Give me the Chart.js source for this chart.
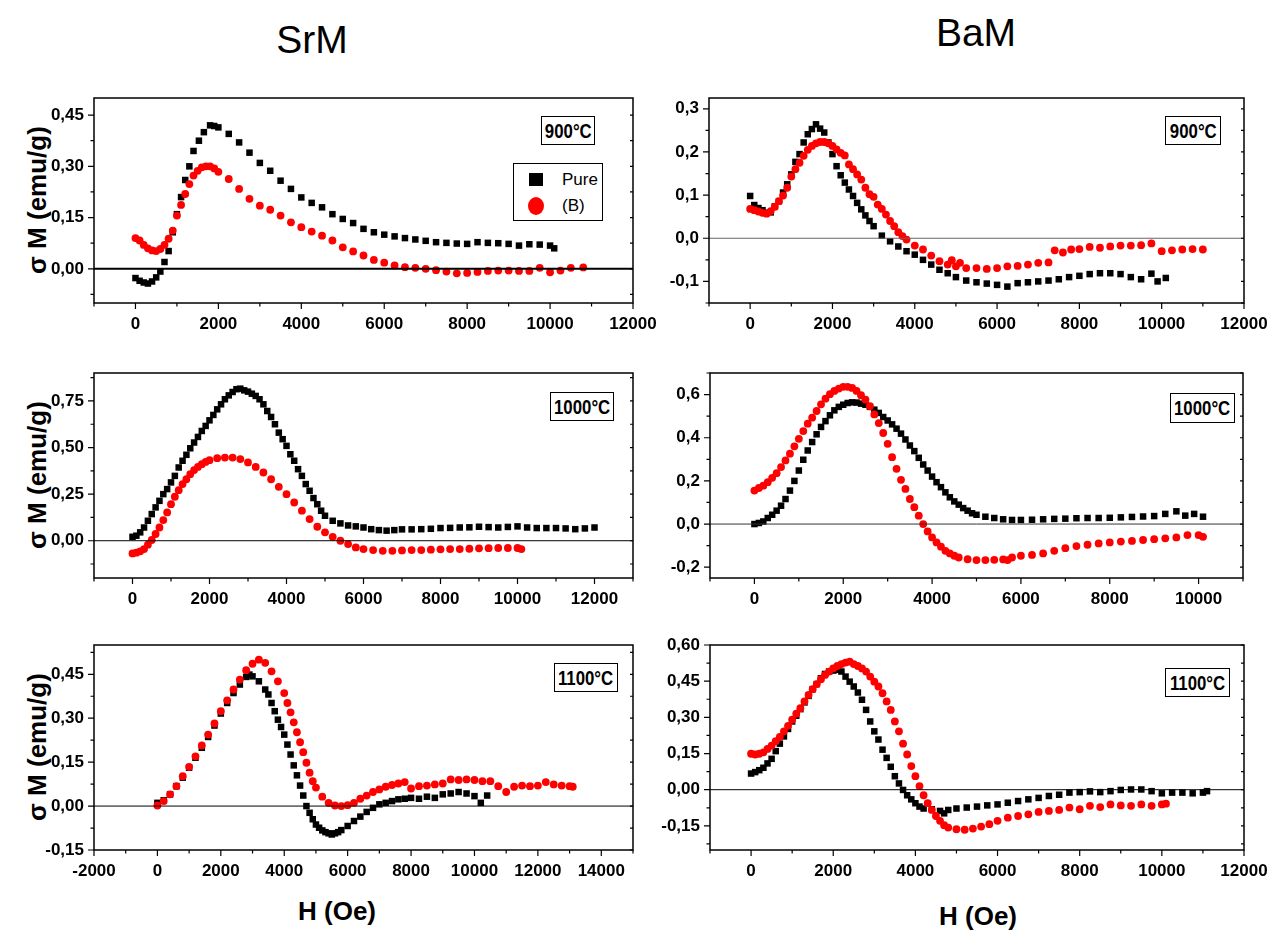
<!DOCTYPE html>
<html>
<head>
<meta charset="utf-8">
<script src="https://cdn.jsdelivr.net/npm/chart.js@4.4.1/dist/chart.umd.min.js"></script>
<style>
  body { margin: 0; background: #fff; }
  #page { position: relative; width: 1277px; height: 932px; overflow: hidden; background: #fff;
          font-family: 'Liberation Sans', Arial, sans-serif; color: #000; }
  canvas { position: absolute; }
  .head { position: absolute; font-size: 39px; transform: translate(-50%, -50%); white-space: nowrap; }
  .htitle { position: absolute; font-size: 26px; font-weight: bold; transform: translate(-50%, -50%); white-space: nowrap; }
  .ytitle { position: absolute; font-size: 26px; font-weight: bold; white-space: nowrap;
            transform: translate(-50%, -50%) rotate(-90deg); }
  .temp { position: absolute; border: 1px solid #000; background: #fff; z-index: 2;
          font-weight: bold; font-size: 21px; display: flex; align-items: center; justify-content: center; }
  .temp span { display: inline-block; transform: scaleX(0.8); white-space: nowrap; }
  .legend { position: absolute; border: 1px solid #000; background: #fff; z-index: 2; font-size: 17px; }
  .legend .sym { position: absolute; }
  .legend .lab { position: absolute; transform: translateY(-50%); }
</style>
</head>
<body>
<div id="page">
  <div class="head" style="left:312px; top:40px">SrM</div>
  <div class="head" style="left:976px; top:33px">BaM</div>

  <div class="ytitle" style="left:37px; top:200px">σ M (emu/g)</div>
  <div class="ytitle" style="left:37px; top:475px">σ M (emu/g)</div>
  <div class="ytitle" style="left:37px; top:747px">σ M (emu/g)</div>

  <div class="htitle" style="left:337px; top:911px">H (Oe)</div>
  <div class="htitle" style="left:978px; top:916px">H (Oe)</div>

  <canvas id="c1"></canvas>
  <canvas id="c2"></canvas>
  <canvas id="c3"></canvas>
  <canvas id="c4"></canvas>
  <canvas id="c5"></canvas>
  <canvas id="c6"></canvas>

  <div class="temp" style="left:541px; top:116px; width:52px; height:27px"><span>900°C</span></div>
  <div class="temp" style="left:1165px; top:116px; width:54px; height:27px"><span>900°C</span></div>
  <div class="temp" style="left:550px; top:392px; width:62px; height:27px"><span>1000°C</span></div>
  <div class="temp" style="left:1170px; top:393px; width:63px; height:28px"><span>1000°C</span></div>
  <div class="temp" style="left:554px; top:663px; width:62px; height:27px"><span>1100°C</span></div>
  <div class="temp" style="left:1165px; top:668px; width:63px; height:27px"><span>1100°C</span></div>

  <div class="legend" style="left:513px; top:163px; width:88px; height:56px">
    <div class="sym" style="left:15px; top:9px; width:14px; height:13px; background:#000"></div>
    <div class="lab" style="left:48px; top:16px">Pure</div>
    <div class="sym" style="left:14px; top:33px; width:16px; height:18px; background:#ff0000; border-radius:50%"></div>
    <div class="lab" style="left:48px; top:42px">(B)</div>
  </div>
</div>

<script>
// ---- data: [H (Oe), sigma M (emu/g)] ----
const srm900Pure = [[0,-0.027],[100,-0.035],[200,-0.04],[300,-0.043],[400,-0.037],[500,-0.025],[600,-0.008],[700,0.02],[800,0.052],[900,0.107],[1000,0.16],[1100,0.21],[1200,0.26],[1300,0.30],[1400,0.345],[1530,0.375],[1650,0.40],[1800,0.42],[1900,0.418],[2000,0.414],[2250,0.395],[2500,0.37],[2750,0.34],[3000,0.31],[3250,0.287],[3500,0.258],[3750,0.234],[4000,0.209],[4250,0.193],[4500,0.18],[4750,0.16],[5000,0.146],[5250,0.134],[5500,0.117],[5750,0.107],[6000,0.1],[6250,0.095],[6500,0.09],[6750,0.086],[7000,0.082],[7250,0.078],[7500,0.076],[7750,0.074],[8000,0.073],[8250,0.078],[8500,0.076],[8750,0.075],[9000,0.073],[9250,0.068],[9500,0.072],[9750,0.071],[10000,0.068],[10100,0.06]];
const srm900B = [[0,0.09],[100,0.083],[200,0.07],[300,0.06],[400,0.054],[500,0.052],[600,0.058],[700,0.07],[800,0.088],[900,0.112],[1000,0.156],[1100,0.187],[1200,0.219],[1300,0.248],[1400,0.273],[1500,0.287],[1600,0.297],[1700,0.30],[1800,0.30],[1900,0.294],[2000,0.284],[2250,0.263],[2500,0.234],[2750,0.205],[3000,0.185],[3250,0.173],[3500,0.156],[3750,0.136],[4000,0.122],[4250,0.109],[4500,0.097],[4750,0.083],[5000,0.063],[5250,0.051],[5500,0.039],[5750,0.026],[6000,0.018],[6250,0.01],[6500,0.005],[6750,0.003],[7000,0.0],[7250,-0.004],[7500,-0.008],[7750,-0.013],[8000,-0.012],[8250,-0.009],[8500,-0.006],[8750,-0.005],[9000,-0.005],[9250,-0.006],[9500,-0.006],[9750,0.003],[10000,-0.01],[10250,-0.005],[10500,0.003],[10800,0.004]];

const bam900Pure = [[0,0.098],[100,0.077],[200,0.07],[300,0.065],[400,0.059],[500,0.06],[600,0.074],[700,0.086],[800,0.106],[900,0.125],[1000,0.148],[1100,0.177],[1200,0.195],[1300,0.222],[1400,0.241],[1500,0.253],[1600,0.264],[1700,0.254],[1800,0.245],[1900,0.222],[2000,0.195],[2100,0.167],[2200,0.146],[2300,0.129],[2400,0.113],[2500,0.098],[2600,0.082],[2700,0.067],[2800,0.053],[2900,0.04],[3000,0.028],[3200,0.006],[3400,-0.007],[3600,-0.019],[3800,-0.03],[4000,-0.038],[4200,-0.05],[4400,-0.061],[4600,-0.073],[4800,-0.081],[5000,-0.09],[5250,-0.098],[5500,-0.102],[5750,-0.105],[6000,-0.108],[6250,-0.112],[6500,-0.104],[6750,-0.102],[7000,-0.1],[7250,-0.098],[7500,-0.095],[7750,-0.09],[8000,-0.087],[8250,-0.083],[8500,-0.081],[8750,-0.081],[9000,-0.083],[9250,-0.09],[9500,-0.095],[9750,-0.082],[9900,-0.1],[10100,-0.092]];
const bam900B = [[0,0.068],[100,0.065],[200,0.062],[300,0.059],[400,0.057],[500,0.063],[600,0.073],[700,0.086],[800,0.099],[900,0.117],[1000,0.143],[1100,0.16],[1200,0.175],[1300,0.191],[1400,0.205],[1500,0.214],[1600,0.22],[1700,0.223],[1800,0.223],[1900,0.22],[2000,0.214],[2100,0.206],[2200,0.198],[2300,0.192],[2400,0.171],[2500,0.16],[2600,0.148],[2700,0.136],[2800,0.117],[2900,0.102],[3000,0.096],[3100,0.078],[3200,0.068],[3300,0.055],[3400,0.04],[3500,0.028],[3600,0.014],[3700,0.005],[3800,-0.003],[4000,-0.017],[4200,-0.026],[4400,-0.04],[4600,-0.053],[4800,-0.061],[4900,-0.051],[5000,-0.065],[5100,-0.057],[5250,-0.069],[5500,-0.069],[5750,-0.071],[6000,-0.069],[6250,-0.065],[6500,-0.064],[6750,-0.061],[7000,-0.057],[7250,-0.056],[7400,-0.028],[7600,-0.033],[7800,-0.026],[8000,-0.025],[8250,-0.02],[8500,-0.022],[8750,-0.019],[9000,-0.017],[9250,-0.017],[9500,-0.016],[9750,-0.012],[10000,-0.03],[10250,-0.028],[10500,-0.026],[10750,-0.025],[11000,-0.026]];

const srm1000Pure = [[0,0.021],[100,0.027],[200,0.045],[300,0.071],[400,0.107],[500,0.143],[600,0.179],[700,0.214],[800,0.25],[900,0.277],[1000,0.313],[1100,0.348],[1200,0.393],[1300,0.429],[1400,0.461],[1500,0.496],[1600,0.527],[1700,0.557],[1800,0.589],[1900,0.616],[2000,0.646],[2100,0.675],[2200,0.705],[2300,0.732],[2400,0.759],[2500,0.78],[2600,0.798],[2700,0.813],[2800,0.816],[2900,0.807],[3000,0.8],[3100,0.789],[3200,0.777],[3300,0.759],[3400,0.732],[3500,0.696],[3600,0.664],[3700,0.625],[3800,0.58],[3900,0.545],[4000,0.509],[4100,0.464],[4200,0.429],[4300,0.384],[4400,0.348],[4500,0.304],[4600,0.268],[4700,0.229],[4800,0.196],[4900,0.161],[5000,0.134],[5200,0.107],[5400,0.093],[5600,0.082],[5800,0.077],[6000,0.071],[6200,0.062],[6400,0.057],[6600,0.054],[6800,0.057],[7000,0.061],[7250,0.061],[7500,0.062],[7750,0.064],[8000,0.068],[8250,0.069],[8500,0.071],[8750,0.072],[9000,0.075],[9250,0.073],[9500,0.071],[9750,0.074],[10000,0.077],[10250,0.071],[10500,0.068],[10750,0.068],[11000,0.068],[11250,0.066],[11500,0.062],[11750,0.066],[12000,0.071]];
const srm1000B = [[0,-0.068],[100,-0.064],[200,-0.057],[300,-0.045],[400,-0.021],[500,0.004],[600,0.036],[700,0.071],[800,0.111],[900,0.152],[1000,0.196],[1100,0.236],[1200,0.271],[1300,0.304],[1400,0.33],[1500,0.357],[1600,0.379],[1700,0.396],[1800,0.411],[1900,0.423],[2000,0.432],[2200,0.443],[2400,0.446],[2600,0.446],[2800,0.438],[3000,0.42],[3200,0.396],[3400,0.366],[3600,0.33],[3800,0.289],[4000,0.25],[4200,0.205],[4400,0.161],[4600,0.116],[4800,0.075],[5000,0.045],[5200,0.021],[5400,0.0],[5600,-0.018],[5800,-0.036],[6000,-0.045],[6250,-0.05],[6500,-0.054],[6750,-0.054],[7000,-0.052],[7250,-0.05],[7500,-0.05],[7750,-0.048],[8000,-0.046],[8250,-0.045],[8500,-0.045],[8750,-0.043],[9000,-0.041],[9250,-0.04],[9500,-0.039],[9750,-0.039],[10000,-0.039],[10100,-0.045]];

const bam1000Pure = [[0,0.0],[100,0.005],[200,0.012],[300,0.028],[400,0.043],[500,0.062],[600,0.085],[700,0.116],[800,0.155],[900,0.2],[1000,0.248],[1100,0.298],[1200,0.341],[1300,0.38],[1400,0.416],[1500,0.45],[1600,0.477],[1700,0.504],[1800,0.527],[1900,0.543],[2000,0.553],[2100,0.561],[2200,0.564],[2300,0.563],[2400,0.558],[2500,0.553],[2600,0.543],[2700,0.53],[2800,0.515],[2900,0.496],[3000,0.48],[3100,0.462],[3200,0.442],[3300,0.419],[3400,0.392],[3500,0.364],[3600,0.338],[3700,0.307],[3800,0.276],[3900,0.248],[4000,0.22],[4100,0.194],[4200,0.171],[4300,0.147],[4400,0.124],[4500,0.105],[4600,0.09],[4700,0.074],[4800,0.062],[4900,0.05],[5000,0.043],[5200,0.034],[5400,0.028],[5600,0.022],[5800,0.019],[6000,0.019],[6250,0.02],[6500,0.022],[6750,0.024],[7000,0.025],[7250,0.027],[7500,0.028],[7750,0.028],[8000,0.029],[8250,0.031],[8500,0.033],[8750,0.035],[9000,0.037],[9250,0.047],[9500,0.059],[9700,0.039],[9900,0.047],[10100,0.034]];
const bam1000B = [[0,0.155],[100,0.167],[200,0.178],[300,0.194],[400,0.214],[500,0.236],[600,0.264],[700,0.295],[800,0.326],[900,0.36],[1000,0.395],[1100,0.431],[1200,0.465],[1300,0.493],[1400,0.524],[1500,0.555],[1600,0.581],[1700,0.602],[1800,0.617],[1900,0.628],[2000,0.636],[2100,0.636],[2200,0.631],[2300,0.617],[2400,0.597],[2500,0.577],[2600,0.546],[2700,0.508],[2800,0.468],[2900,0.422],[3000,0.372],[3100,0.31],[3200,0.256],[3300,0.205],[3400,0.163],[3500,0.116],[3600,0.078],[3700,0.039],[3800,0.0],[3900,-0.034],[4000,-0.062],[4100,-0.085],[4200,-0.105],[4300,-0.124],[4400,-0.136],[4500,-0.147],[4600,-0.155],[4800,-0.163],[5000,-0.167],[5200,-0.167],[5400,-0.166],[5600,-0.164],[5700,-0.167],[5800,-0.155],[6000,-0.147],[6250,-0.143],[6500,-0.136],[6750,-0.124],[7000,-0.112],[7250,-0.102],[7500,-0.096],[7750,-0.09],[8000,-0.085],[8250,-0.081],[8500,-0.078],[8750,-0.074],[9000,-0.07],[9250,-0.066],[9500,-0.062],[9750,-0.051],[10000,-0.051],[10100,-0.059]];

const srm1100Pure = [[0,0.011],[200,0.02],[400,0.04],[600,0.068],[800,0.097],[1000,0.131],[1200,0.165],[1400,0.199],[1600,0.236],[1800,0.275],[2000,0.316],[2200,0.352],[2400,0.386],[2600,0.415],[2800,0.441],[2900,0.449],[3000,0.443],[3200,0.426],[3400,0.398],[3500,0.381],[3600,0.352],[3700,0.324],[3800,0.295],[3900,0.27],[4000,0.244],[4100,0.21],[4200,0.176],[4300,0.139],[4400,0.105],[4500,0.07],[4600,0.036],[4700,0.0],[4800,-0.023],[4900,-0.045],[5000,-0.063],[5100,-0.074],[5200,-0.083],[5300,-0.089],[5400,-0.093],[5500,-0.097],[5600,-0.093],[5700,-0.089],[5800,-0.082],[6000,-0.068],[6200,-0.051],[6400,-0.036],[6600,-0.02],[6800,-0.006],[7000,0.006],[7200,0.011],[7400,0.017],[7600,0.023],[7800,0.025],[8000,0.028],[8250,0.025],[8500,0.032],[8750,0.028],[9000,0.04],[9250,0.043],[9500,0.048],[9750,0.043],[10000,0.034],[10200,0.011],[10400,0.036]];
const srm1100B = [[0,0.002],[200,0.017],[400,0.04],[600,0.068],[800,0.102],[1000,0.134],[1200,0.17],[1400,0.207],[1600,0.244],[1800,0.282],[2000,0.324],[2200,0.361],[2400,0.398],[2600,0.432],[2800,0.464],[3000,0.486],[3200,0.5],[3400,0.489],[3600,0.46],[3800,0.426],[4000,0.386],[4100,0.352],[4200,0.32],[4300,0.286],[4400,0.252],[4500,0.218],[4600,0.184],[4700,0.148],[4800,0.114],[4900,0.085],[5000,0.063],[5200,0.032],[5400,0.011],[5600,0.002],[5800,0.0],[6000,0.003],[6200,0.011],[6400,0.025],[6600,0.036],[6800,0.048],[7000,0.057],[7200,0.066],[7400,0.072],[7600,0.077],[7800,0.082],[8000,0.06],[8250,0.068],[8500,0.07],[8750,0.074],[9000,0.077],[9250,0.091],[9500,0.089],[9750,0.091],[10000,0.089],[10250,0.085],[10500,0.085],[10750,0.068],[11000,0.048],[11250,0.066],[11500,0.07],[11750,0.068],[12000,0.07],[12250,0.082],[12500,0.074],[12750,0.07],[13000,0.068],[13100,0.066]];

const bam1100Pure = [[0,0.067],[100,0.073],[200,0.081],[300,0.091],[400,0.109],[500,0.128],[600,0.16],[700,0.191],[800,0.221],[900,0.252],[1000,0.283],[1100,0.307],[1200,0.334],[1300,0.362],[1400,0.389],[1500,0.417],[1600,0.438],[1700,0.462],[1800,0.48],[1900,0.49],[2000,0.494],[2100,0.497],[2200,0.49],[2300,0.469],[2400,0.448],[2500,0.428],[2600,0.403],[2700,0.373],[2800,0.331],[2900,0.283],[3000,0.242],[3100,0.208],[3200,0.166],[3300,0.132],[3400,0.095],[3500,0.056],[3600,0.026],[3700,-0.001],[3800,-0.023],[3900,-0.04],[4000,-0.056],[4100,-0.07],[4200,-0.078],[4400,-0.081],[4600,-0.088],[4700,-0.098],[4800,-0.084],[5000,-0.078],[5250,-0.074],[5500,-0.07],[5750,-0.065],[6000,-0.061],[6250,-0.054],[6500,-0.047],[6750,-0.04],[7000,-0.034],[7250,-0.026],[7500,-0.021],[7750,-0.012],[8000,-0.01],[8250,-0.007],[8500,-0.01],[8750,-0.006],[9000,-0.001],[9250,0.001],[9500,0.001],[9750,-0.006],[10000,-0.015],[10250,-0.012],[10500,-0.012],[10750,-0.015],[11000,-0.012],[11100,-0.006]];
const bam1100B = [[0,0.149],[100,0.146],[200,0.149],[300,0.155],[400,0.169],[500,0.183],[600,0.201],[700,0.219],[800,0.242],[900,0.265],[1000,0.29],[1100,0.315],[1200,0.338],[1300,0.366],[1400,0.393],[1500,0.417],[1600,0.438],[1700,0.458],[1800,0.476],[1900,0.49],[2000,0.503],[2100,0.513],[2200,0.521],[2300,0.527],[2400,0.531],[2500,0.521],[2600,0.513],[2700,0.503],[2800,0.49],[2900,0.469],[3000,0.448],[3100,0.428],[3200,0.4],[3300,0.366],[3400,0.331],[3500,0.283],[3600,0.242],[3700,0.191],[3800,0.146],[3900,0.098],[4000,0.056],[4100,0.015],[4200,-0.023],[4300,-0.056],[4400,-0.084],[4500,-0.109],[4600,-0.129],[4700,-0.147],[4800,-0.157],[5000,-0.164],[5200,-0.166],[5400,-0.161],[5600,-0.153],[5800,-0.143],[6000,-0.129],[6250,-0.116],[6500,-0.109],[6750,-0.102],[7000,-0.092],[7250,-0.088],[7500,-0.084],[7750,-0.074],[8000,-0.081],[8250,-0.067],[8500,-0.072],[8750,-0.061],[9000,-0.065],[9250,-0.067],[9500,-0.061],[9750,-0.067],[10000,-0.061],[10100,-0.058]];

// ---- tick labels ----
const hTicks = [0, 2000, 4000, 6000, 8000, 10000, 12000];
const hTicksBaM1000 = [0, 2000, 4000, 6000, 8000, 10000];
const hTicksSrM1100 = [-2000, 0, 2000, 4000, 6000, 8000, 10000, 12000, 14000];
const mTicksSrM900 = [0, 0.15, 0.30, 0.45];
const mTicksBaM900 = [-0.1, 0, 0.1, 0.2, 0.3];
const mTicksSrM1000 = [0, 0.25, 0.5, 0.75];
const mTicksBaM1000 = [-0.2, 0, 0.2, 0.4, 0.6];
const mTicksSrM1100 = [-0.15, 0, 0.15, 0.30, 0.45];
const mTicksBaM1100 = [-0.15, 0, 0.15, 0.30, 0.45, 0.60];

// ---- panels: axis ranges + where the plot box sits on the page ----
const panels = [
  { id: 'c1', pure: srm900Pure, boron: srm900B, xr: [-1000, 12000], yr: [-0.1, 0.5], xt: hTicks, yt: mTicksSrM900, xm: 1000, ym: 0.075, dec: 2,
    box: { l: 94, r: 633, t: 98, b: 303 }, cv: { x: 0, y: 85, w: 665, h: 260 }, zero: { w: 2, c: '#000' } },
  { id: 'c2', pure: bam900Pure, boron: bam900B, xr: [-1000, 12000], yr: [-0.15, 0.325], xt: hTicks, yt: mTicksBaM900, xm: 1000, ym: 0.05, dec: 1,
    box: { l: 709, r: 1244, t: 98, b: 303 }, cv: { x: 645, y: 85, w: 632, h: 260 }, zero: { w: 1.2, c: '#666' } },
  { id: 'c3', pure: srm1000Pure, boron: srm1000B, xr: [-1000, 13000], yr: [-0.2, 0.9], xt: hTicks, yt: mTicksSrM1000, xm: 1000, ym: 0.125, dec: 2,
    box: { l: 94, r: 633, t: 373, b: 578 }, cv: { x: 0, y: 355, w: 665, h: 260 }, zero: { w: 1, c: '#000' } },
  { id: 'c4', pure: bam1000Pure, boron: bam1000B, xr: [-1000, 11000], yr: [-0.25, 0.7], xt: hTicksBaM1000, yt: mTicksBaM1000, xm: 1000, ym: 0.1, dec: 1,
    box: { l: 710, r: 1243, t: 373, b: 578 }, cv: { x: 645, y: 355, w: 632, h: 260 }, zero: { w: 1, c: '#333' } },
  { id: 'c5', pure: srm1100Pure, boron: srm1100B, xr: [-2000, 15000], yr: [-0.15, 0.55], xt: hTicksSrM1100, yt: mTicksSrM1100, xm: 1000, ym: 0.075, dec: 2,
    box: { l: 94, r: 633, t: 645, b: 850 }, cv: { x: 0, y: 630, w: 665, h: 255 }, zero: { w: 1, c: '#000' } },
  { id: 'c6', pure: bam1100Pure, boron: bam1100B, xr: [-1000, 12000], yr: [-0.25, 0.6], xt: hTicks, yt: mTicksBaM1100, xm: 1000, ym: 0.075, dec: 2,
    box: { l: 710, r: 1244, t: 645, b: 850 }, cv: { x: 645, y: 630, w: 632, h: 255 }, zero: { w: 1, c: '#000' } }
];

const tickFont = { family: "'Liberation Sans', Arial, sans-serif", weight: 'bold', size: 17 };

// frame, zero line and Origin-style major/minor ticks
const framePlugin = {
  id: 'frame',
  afterDatasetsDraw(chart, args, o) {
    const { ctx, chartArea: a, scales: { x, y } } = chart;
    ctx.save();
    const y0 = y.getPixelForValue(0);
    ctx.strokeStyle = o.zero.c;
    ctx.lineWidth = o.zero.w;
    ctx.beginPath(); ctx.moveTo(a.left, y0); ctx.lineTo(a.right, y0); ctx.stroke();

    ctx.strokeStyle = '#000';
    ctx.lineWidth = 1.5;
    ctx.strokeRect(a.left, a.top, a.right - a.left, a.bottom - a.top);

    ctx.lineWidth = 1.2;
    ctx.beginPath();
    for (let k = Math.ceil(x.min / o.xm); k * o.xm <= x.max; k++) {
      const px = x.getPixelForValue(k * o.xm);
      ctx.moveTo(px, a.bottom); ctx.lineTo(px, a.bottom + (k % 2 === 0 ? 6 : 3.5));
    }
    for (let k = Math.ceil(y.min / o.ym - 1e-6); k * o.ym <= y.max + 1e-9; k++) {
      const py = y.getPixelForValue(k * o.ym);
      const len = k % 2 === 0 ? 6 : 3.5;
      ctx.moveTo(a.left, py); ctx.lineTo(a.left - len, py);
      ctx.moveTo(a.right, py); ctx.lineTo(a.right - 3, py);
    }
    ctx.stroke();
    ctx.restore();
  }
};

function makePanel(p) {
  const canvas = document.getElementById(p.id);
  canvas.width = p.cv.w;
  canvas.height = p.cv.h;
  canvas.style.left = p.cv.x + 'px';
  canvas.style.top = p.cv.y + 'px';

  const toPts = arr => arr.map(d => ({ x: d[0], y: d[1] }));
  const fmt = v => v.toFixed(p.dec).replace('.', ',');

  new Chart(canvas, {
    type: 'scatter',
    data: {
      datasets: [
        { label: 'Pure', data: toPts(p.pure), pointStyle: 'rect', pointRadius: 4.6,
          backgroundColor: '#000', borderWidth: 0, order: 1 },
        { label: '(B)', data: toPts(p.boron), pointStyle: 'circle', pointRadius: 3.9,
          backgroundColor: '#ff0000', borderWidth: 0, order: 0 }
      ]
    },
    options: {
      responsive: false,
      animation: false,
      devicePixelRatio: 1,
      events: [],
      layout: { padding: { left: 0, top: p.box.t - p.cv.y, right: p.cv.w - (p.box.r - p.cv.x), bottom: 0 } },
      plugins: { legend: { display: false }, tooltip: { enabled: false }, frame: p },
      scales: {
        x: {
          type: 'linear', min: p.xr[0], max: p.xr[1],
          afterBuildTicks: s => { s.ticks = p.xt.map(v => ({ value: v })); },
          afterFit: s => { s.height = p.cv.y + p.cv.h - p.box.b; s.paddingLeft = 0; s.paddingRight = 0; },
          grid: { display: false, drawTicks: false },
          border: { display: false },
          ticks: { autoSkip: false, maxRotation: 0, padding: 11, color: '#000', font: tickFont, callback: v => String(v) }
        },
        y: {
          type: 'linear', min: p.yr[0], max: p.yr[1],
          afterBuildTicks: s => { s.ticks = p.yt.map(v => ({ value: v })); },
          afterFit: s => { s.width = p.box.l - p.cv.x; s.paddingTop = 0; s.paddingBottom = 0; },
          grid: { display: false, drawTicks: false },
          border: { display: false },
          ticks: { autoSkip: false, padding: 10, color: '#000', font: tickFont, callback: v => fmt(v) }
        }
      }
    },
    plugins: [framePlugin]
  });
}

panels.forEach(makePanel);
</script>
</body>
</html>
